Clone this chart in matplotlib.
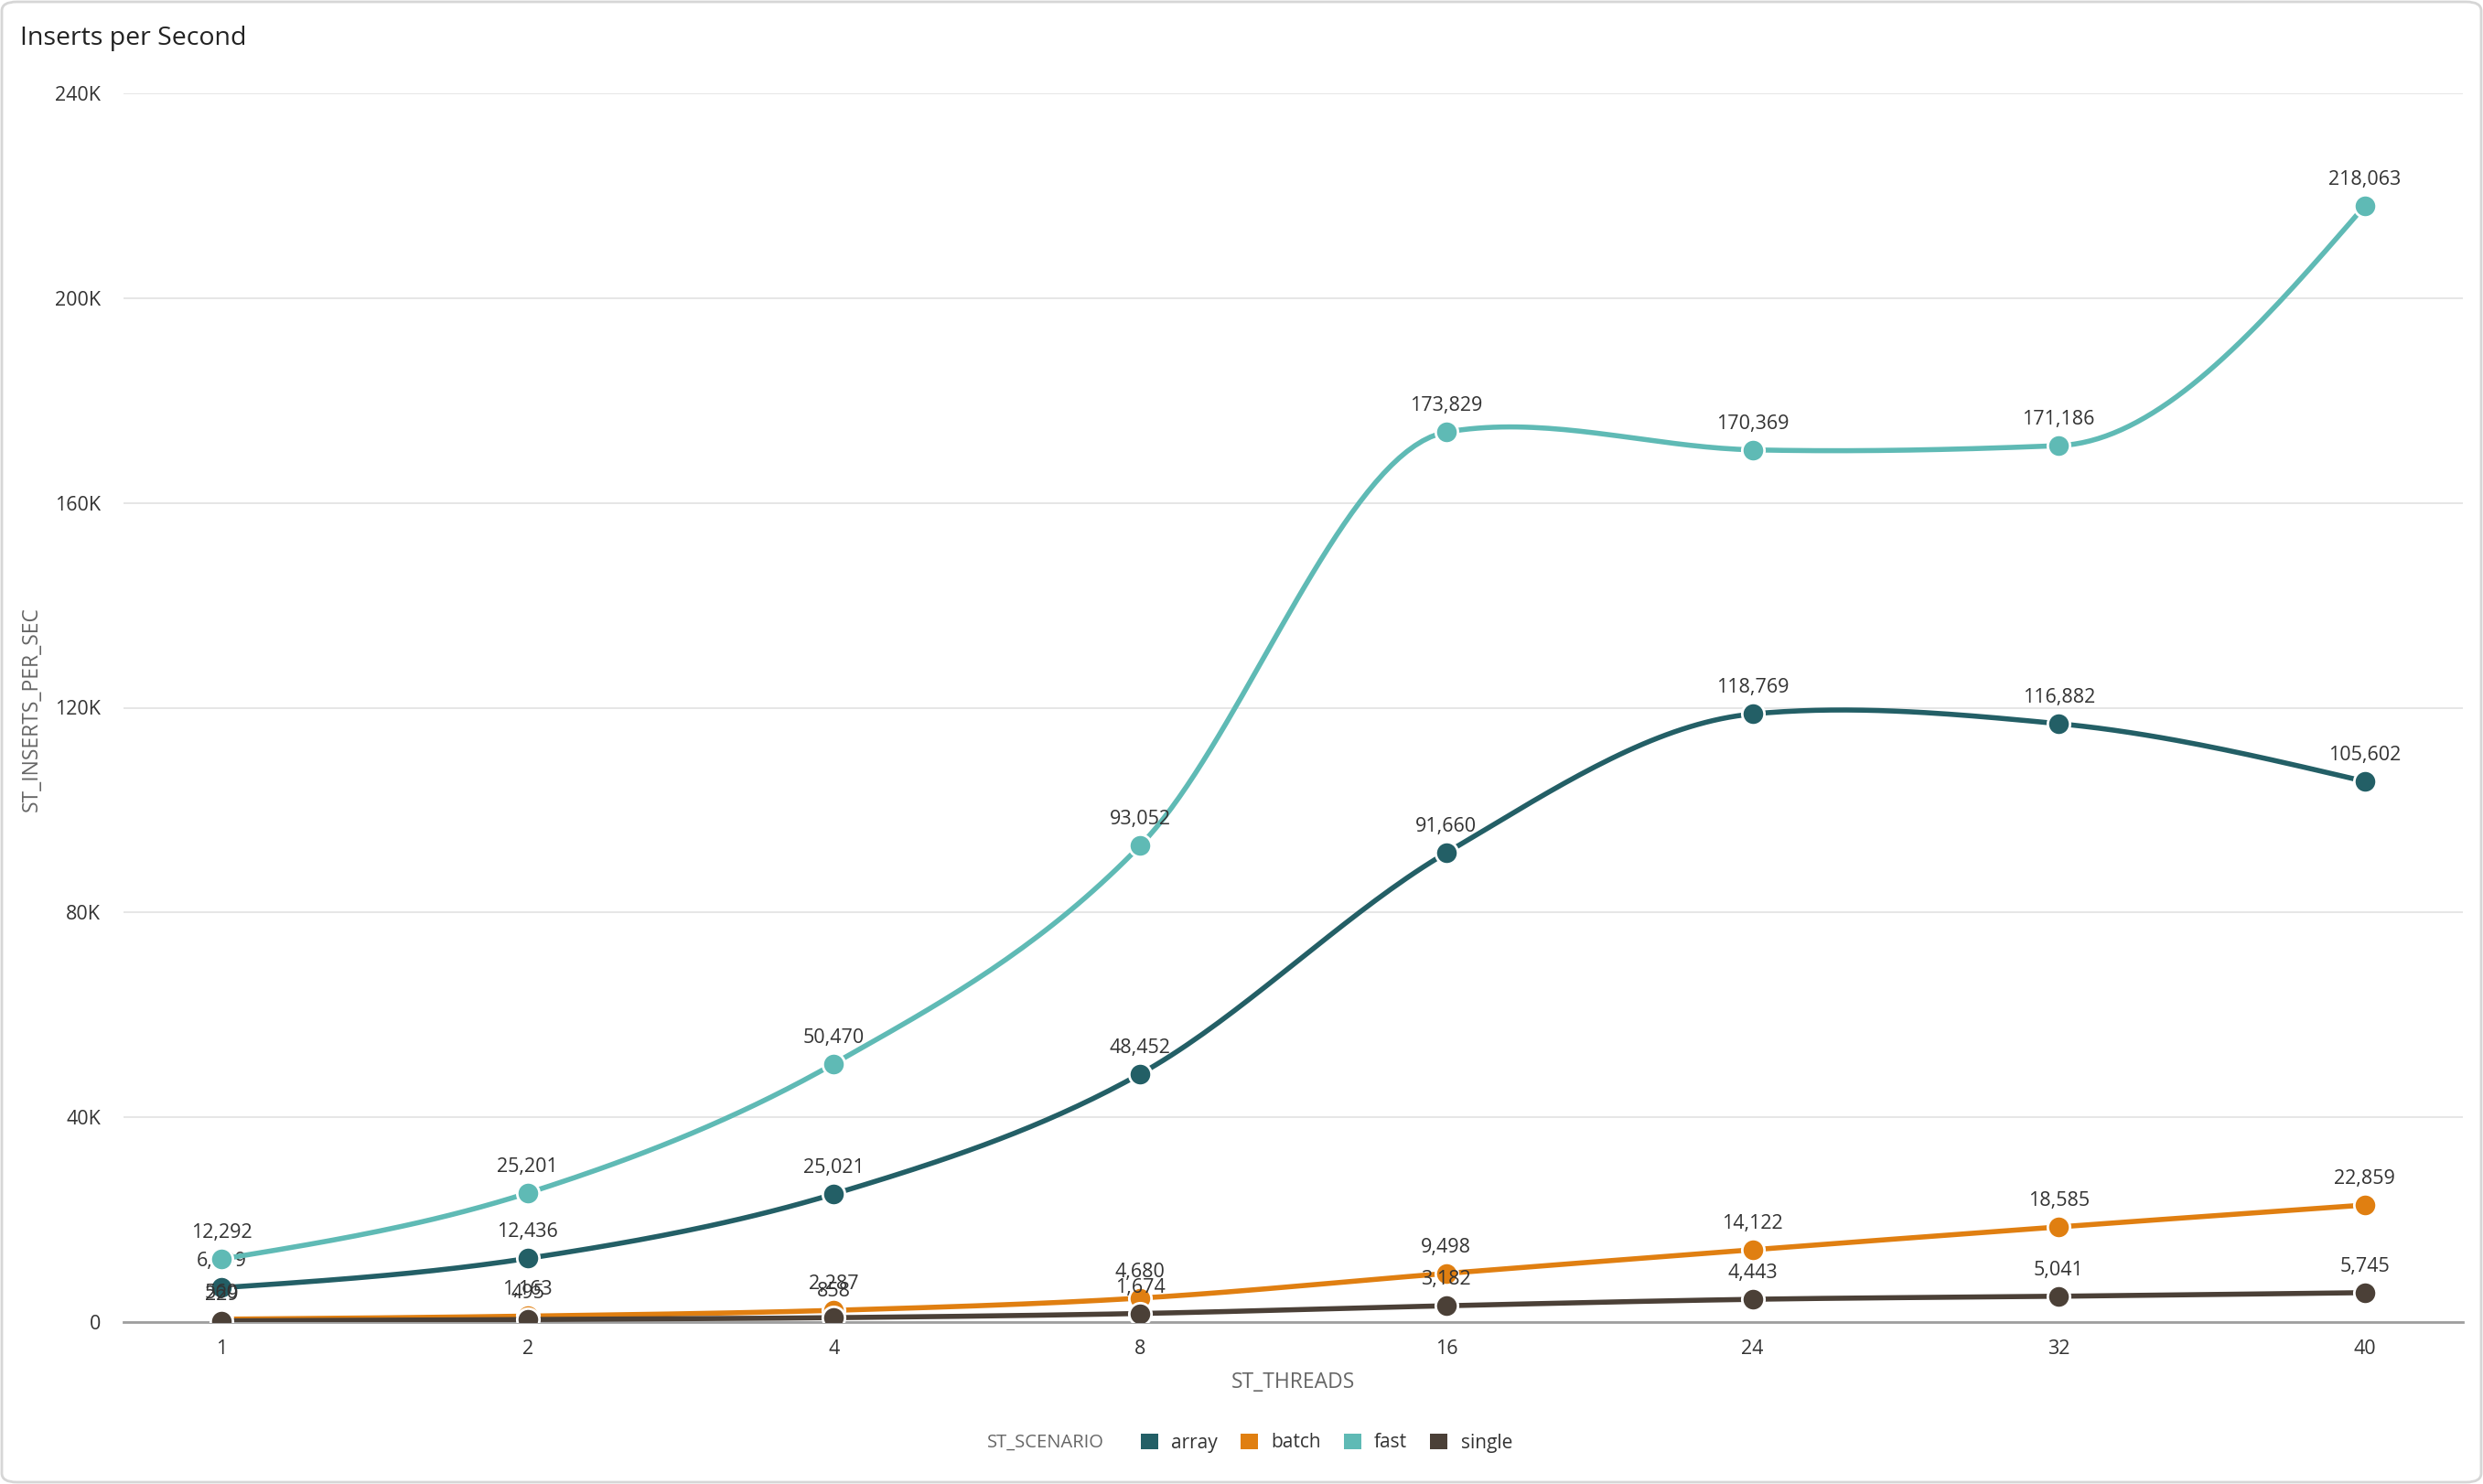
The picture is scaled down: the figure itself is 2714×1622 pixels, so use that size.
import numpy as np
import matplotlib
matplotlib.use("Agg")
import matplotlib.pyplot as plt
from matplotlib.patches import FancyBboxPatch, Patch
from matplotlib.ticker import FuncFormatter

plt.rcParams['font.family'] = ['Open Sans', 'DejaVu Sans']

threads = ['1', '2', '4', '8', '16', '24', '32', '40']
scenarios = ['array', 'batch', 'fast', 'single']
array_vals = [6709, 12436, 25021, 48452, 91660, 118769, 116882, 105602]
batch_vals = [560, 1163, 2287, 4680, 9498, 14122, 18585, 22859]
fast_vals = [12292, 25201, 50470, 93052, 173829, 170369, 171186, 218063]
single_vals = [229, 495, 858, 1674, 3182, 4443, 5041, 5745]
colors = {'array': '#235f66', 'batch': '#e07f11', 'fast': '#5fbab5', 'single': '#4b4037'}
series = {'array': array_vals, 'batch': batch_vals, 'fast': fast_vals, 'single': single_vals}


def smooth(y, n=40):
    # hermite spline on category positions, tangents clamped near flat segments
    y = np.asarray(y, dtype=float)
    k = len(y)
    s = np.diff(y)
    m = np.zeros(k)
    for i in range(1, k - 1):
        c = (s[i - 1] + s[i]) / 2
        lim = 3 * min(abs(s[i - 1]), abs(s[i]))
        m[i] = np.sign(c) * min(abs(c), lim)
    m[0] = (3 * s[0] - m[1]) / 2
    m[-1] = (3 * s[-1] - m[-2]) / 2
    xs, ys = [], []
    for i in range(k - 1):
        t = np.linspace(0, 1, n)
        h00 = 2 * t**3 - 3 * t**2 + 1
        h10 = t**3 - 2 * t**2 + t
        h01 = -2 * t**3 + 3 * t**2
        h11 = t**3 - t**2
        xs.append(i + t)
        ys.append(h00 * y[i] + h10 * m[i] + h01 * y[i + 1] + h11 * m[i + 1])
    return np.concatenate(xs), np.concatenate(ys)


fig = plt.figure(figsize=(27.14, 16.22), dpi=100)
ax = fig.add_axes([135 / 2714, 1 - 1445 / 1622, (2692 - 135) / 2714, (1445 - 102) / 1622])

x = np.arange(len(threads))
for z, name in enumerate(scenarios):
    vals = series[name]
    sx, sy = smooth(vals)
    ax.plot(sx, sy, color=colors[name], lw=4, zorder=3 + z * 3, solid_capstyle='round')
    ax.plot(x, vals, 'o', ms=17.5, color=colors[name], mec='white', mew=2, zorder=4 + z * 3)
    for xi, v in zip(x, vals):
        ax.annotate(f"{v:,}", (xi, v), xytext=(0, 13), textcoords='offset points',
                    ha='center', va='bottom', fontsize=15.5, color='#333333', zorder=5 + z * 3)

ax.set_xlim(-0.32, len(threads) - 1 + 0.32)
ax.set_ylim(0, 240000)
ax.set_yticks(np.arange(0, 240001, 40000))
ax.yaxis.set_major_formatter(FuncFormatter(lambda v, p: '0' if v == 0 else f"{int(v / 1000)}K"))
ax.set_xticks(x)
ax.set_xticklabels(threads)
ax.tick_params(axis='y', length=0, pad=18, labelsize=15.5, labelcolor='#333333')
ax.tick_params(axis='x', length=0, pad=14, labelsize=15.5, labelcolor='#333333')
ax.grid(axis='y', color='#e4e4e4', lw=1.3)
ax.set_axisbelow(True)
for sp in ['top', 'right', 'left']:
    ax.spines[sp].set_visible(False)
ax.spines['bottom'].set_color('#9e9e9e')
ax.spines['bottom'].set_linewidth(2)

fig.text(0.5 * (135 + 2692) / 2714, 1 - 1511 / 1622, 'ST_THREADS', ha='center', va='center',
         fontsize=16.5, color='#666666')
fig.text(35 / 2714, 1 - 775 / 1622, 'ST_INSERTS_PER_SEC', rotation=90, ha='center', va='center',
         fontsize=16.5, color='#666666')
fig.text(22 / 2714, 1 - 42 / 1622, 'Inserts per Second', ha='left', va='center',
         fontsize=20.5, color='#222222')

fig.text(1207 / 2714, 1 - 1577 / 1622, 'ST_SCENARIO', ha='right', va='center',
         fontsize=14.5, color='#666666')
handles = [Patch(facecolor=colors[n], edgecolor='none') for n in scenarios]
fig.legend(handles, scenarios, loc='center left', bbox_to_anchor=(1228 / 2714, 1 - 1577 / 1622),
           ncol=4, frameon=False, fontsize=15, handlelength=0.9, handleheight=0.9,
           handletextpad=0.7, columnspacing=1.2, labelcolor='#333333')

fig.patches.append(FancyBboxPatch((2 / 2714, 2 / 1622), 1 - 4 / 2714, 1 - 4 / 1622,
                                  boxstyle='round,pad=0,rounding_size=0.006',
                                  transform=fig.transFigure, fill=False,
                                  edgecolor='#d6d6d6', lw=2))

fig.savefig('out.png', dpi=100)
